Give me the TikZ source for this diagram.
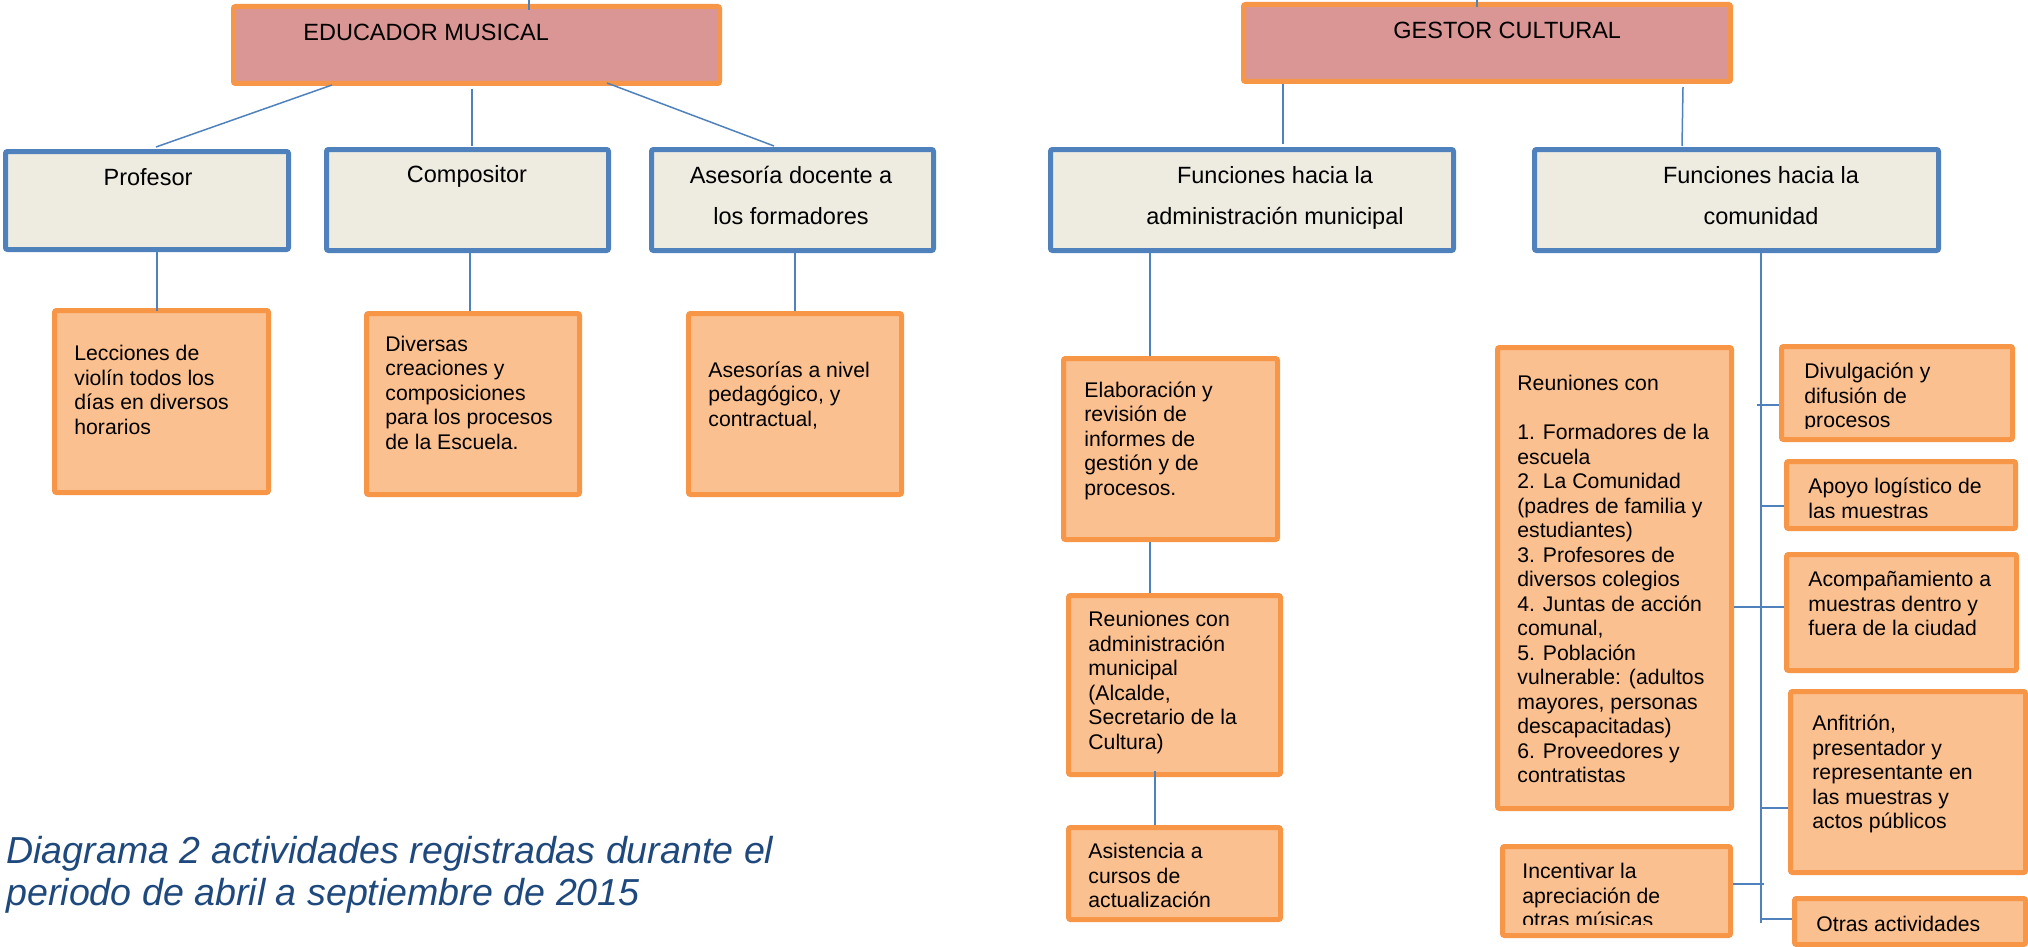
\documentclass[tikz,border=0pt]{standalone}
\usepackage{fontspec}
\setmainfont{Liberation Sans}
\usetikzlibrary{calc,fit}
\definecolor{pinkf}{HTML}{D99694}
\definecolor{ored}{HTML}{F79646}
\definecolor{blueb}{HTML}{4F81BD}
\definecolor{beigef}{HTML}{EEECE1}
\definecolor{peachf}{HTML}{FAC090}
\definecolor{capblue}{HTML}{1F497D}
\newcommand\bodyfnt{\fontsize{10.6}{12.25}\selectfont}
\newcommand\headfnt{\fontsize{11.75}{20.5}\selectfont}
\newcommand\capfnt{\fontsize{18.8}{21}\selectfont\itshape}
\newcommand\mkbox[6]{\node[#2, fit={(#3+2.5,#4+2.5) (#5-2.5,#6-2.5)}] (#1) {};}
\begin{document}
\begin{tikzpicture}[x=0.5pt,y=-0.5pt,
  hbox/.style={draw=ored, line width=2.5pt, fill=pinkf, rounded corners=1pt, inner sep=0pt},
  bbox/.style={draw=blueb, line width=2.5pt, fill=beigef, rounded corners=1pt, inner sep=0pt},
  obox/.style={draw=ored, line width=2.5pt, fill=peachf, rounded corners=1pt, inner sep=0pt},
  conn/.style={draw=blueb, line width=0.75pt},
  stub/.style={draw=blueb, line width=1.1pt},
  txt/.style={font=\bodyfnt, align=left, anchor=north west, inner sep=0pt},
  htxt/.style={font=\headfnt, align=center, inner sep=0pt},
  captxt/.style={font=\capfnt, text=capblue, align=left, anchor=north west, inner sep=0pt}]
\useasboundingbox (0,0) rectangle (2028,947);
% ---- boxes
\mkbox{edu}{hbox}{231}{4}{722}{86}
\mkbox{gestor}{hbox}{1241}{2}{1733}{84}
\mkbox{prof}{bbox}{3}{149}{291}{252}
\mkbox{comp}{bbox}{324}{147}{611}{253}
\mkbox{ases}{bbox}{649}{147}{936}{253}
\mkbox{admin}{bbox}{1048}{147}{1456}{253}
\mkbox{comun}{bbox}{1532}{147}{1941}{253}
\mkbox{lec}{obox}{52}{308}{271}{495}
\mkbox{div}{obox}{364}{311}{582}{497}
\mkbox{asr}{obox}{686}{311}{904}{497}
\mkbox{elab}{obox}{1061}{356}{1280}{542}
\mkbox{reuadm}{obox}{1066}{593}{1283}{777}
\mkbox{asist}{obox}{1066}{825}{1283}{922}
\mkbox{bigreu}{obox}{1495}{345}{1734}{811}
\mkbox{divul}{obox}{1779}{344}{2015}{442}
\mkbox{apoyo}{obox}{1784}{459}{2018}{531}
\mkbox{acomp}{obox}{1784}{552}{2019}{673}
\mkbox{anfit}{obox}{1788}{689}{2028}{875}
\mkbox{incent}{obox}{1500}{844}{1733}{938}
\mkbox{otras}{obox}{1792}{896}{2028}{947}
% ---- connectors
\coordinate (etop) at (529,0);
\coordinate (gtop) at (1477,0);
\draw[conn] (etop) -- ($(etop |- edu.north)+(0,6)$);
\draw[conn] (gtop) -- ($(gtop |- gestor.north)+(0,5)$);
\draw[conn] ($(edu.south west)+(101,-1)$) -- ($(prof.north west)+(153,-2)$);
\draw[conn] ($(edu.south)+(-4.5,3)$) -- ($(comp.north)+(4.5,-1)$);
\draw[conn] ($(edu.south west)+(376,-3)$) -- ($(ases.north west)+(125,-1)$);
\draw[conn] ($(gestor.south west)+(42,0)$) -- ($(admin.north west)+(235,-3)$);
\draw[conn] ($(gestor.south west)+(442,3)$) -- ($(comun.north west)+(150,-1)$);
\draw[conn] ($(prof.south west)+(154,0)$) -- ($(lec.north west)+(105,3)$);
\draw[conn] ($(comp.south west)+(146,0)$) -- ($(div.north west)+(106,0)$);
\draw[conn] ($(ases.south west)+(146,0)$) -- ($(asr.north west)+(109,0)$);
\draw[conn] ($(admin.south west)+(102,0)$) -- ($(elab.north west)+(89,0)$);
\draw[conn] ($(elab.south west)+(89,0)$) -- ($(reuadm.north west)+(84,0)$);
\draw[conn] ($(reuadm.south west)+(89,-6)$) -- ($(asist.north west)+(89,0)$);
\coordinate (tend) at (1761,923);
\draw[conn] ($(comun.south west)+(229,0)$) -- (tend);
\coordinate (s1) at (1757,405);
\coordinate (s2) at (1761,506);
\coordinate (s3) at (1761,607);
\coordinate (s4) at (1761,808);
\coordinate (s5) at (1764,884);
\coordinate (s6) at (1761,919);
\draw[stub] (s1) -- (s1 -| divul.west);
\draw[stub] (s2) -- (s2 -| apoyo.west);
\draw[stub] (s3 -| bigreu.east) -- (s3 -| acomp.west);
\draw[stub] (s4) -- (s4 -| anfit.west);
\draw[stub] (incent.east |- s5) -- (s5);
\draw[stub] (s6) -- (s6 -| otras.west);
% ---- texts
\node[htxt, anchor=base west] (edu-t) at (303,41) {EDUCADOR MUSICAL};
\node[htxt, anchor=base west] (ges-t) at (1393,39) {GESTOR CULTURAL};
\node[htxt, anchor=base] (prof-t) at (148,185) {Profesor};
\node[htxt, anchor=base] (comp-t) at (467,182) {Compositor};
\node[htxt, anchor=north] (ases-t) at (791,154.3) {\strut Asesoría docente a\\los formadores};
\node[htxt, anchor=north] (admin-t) at (1275,154.3) {\strut Funciones hacia la\\administración municipal};
\node[htxt, anchor=north] (comun-t) at (1761,154.3) {\strut Funciones hacia la\\comunidad};
\node[txt] (lec-t) at (74,343) {\strut Lecciones de\\violín todos los\\días en diversos\\horarios};
\node[txt] (div-t) at (385,333.5) {\strut Diversas\\creaciones y\\composiciones\\para los procesos\\de la Escuela.};
\node[txt] (asr-t) at (708,359.5) {\strut Asesorías a nivel\\pedagógico, y\\contractual,};
\node[txt] (elab-t) at (1084,379.5) {\strut Elaboración y\\revisión de\\informes de\\gestión y de\\procesos.};
\node[txt] (reuadm-t) at (1088,609) {\strut Reuniones con\\administración\\municipal\\(Alcalde,\\Secretario de la\\Cultura)};
\node[txt] (asist-t) at (1088,841) {\strut Asistencia a\\cursos de\\actualización};
\node[txt] (bigreu-t) at (1517,373) {\strut Reuniones con\\\mbox{}\\1. Formadores de la\\escuela\\2. La Comunidad\\(padres de familia y\\estudiantes)\\3. Profesores de\\diversos colegios\\4. Juntas de acción\\comunal,\\5. Población\\vulnerable: (adultos\\mayores, personas\\descapacitadas)\\6. Proveedores y\\contratistas};
\begin{scope}
\clip (divul.north west) rectangle ($(divul.south east)+(0,-13.5)$);
\node[txt] (divul-t) at (1804,361) {\strut Divulgación y\\difusión de\\procesos};
\end{scope}
\begin{scope}
\clip (apoyo.north west) rectangle ($(apoyo.south east)+(0,-13.5)$);
\node[txt] (apoyo-t) at (1808,476) {\strut Apoyo logístico de\\las muestras};
\end{scope}
\node[txt] (acomp-t) at (1808,569) {\strut Acompañamiento a\\muestras dentro y\\fuera de la ciudad};
\node[txt] (anfit-t) at (1812,713) {\strut Anfitrión,\\presentador y\\representante en\\las muestras y\\actos públicos};
\begin{scope}
\clip (incent.north west) rectangle ($(incent.south east)+(0,-13.5)$);
\node[txt] (incent-t) at (1522,861) {\strut Incentivar la\\apreciación de\\otras músicas};
\end{scope}
\node[txt] (otras-t) at (1816,914) {\strut Otras actividades};
\node[captxt] (cap) at (6,834) {\strut Diagrama 2 actividades registradas durante el\\periodo de abril a septiembre de 2015};
\end{tikzpicture}
\end{document}
